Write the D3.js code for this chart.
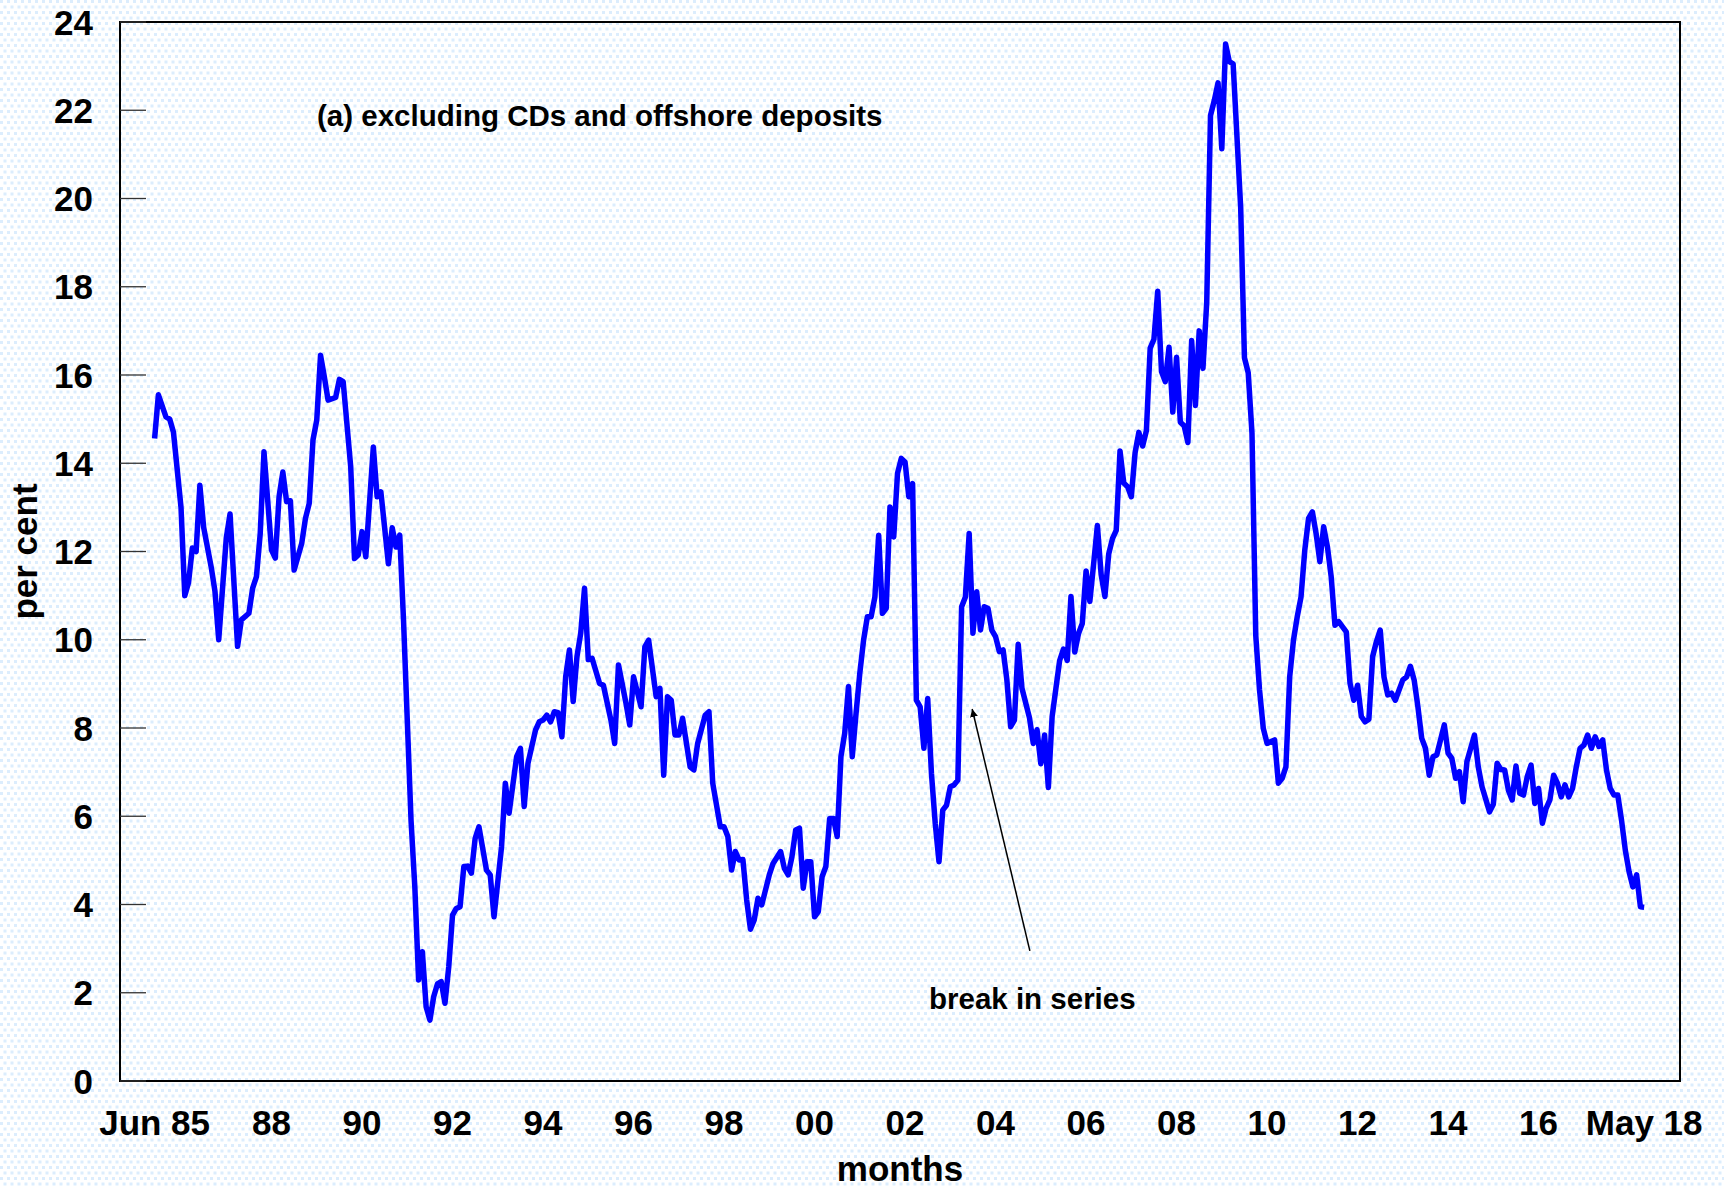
<!DOCTYPE html>
<html>
<head>
<meta charset="utf-8">
<script src="https://cdn.jsdelivr.net/npm/d3@7"></script>
<style>
  body { margin: 0; background: #fff; }
  svg { display: block; }
</style>
</head>
<body>
<div id="chart"></div>
<script>
// months counted from Jun 1985 (0) to May 2018 (395)
const monthIdx = [
  0, 1, 3, 4, 5, 7, 8, 9, 10, 11, 12, 13, 15, 16, 17, 19, 20, 22, 23, 25,
  26, 27, 28, 29, 31, 32, 33, 34, 35, 36, 37, 39, 40, 41, 42, 43, 44, 45, 46, 48,
  49, 50, 52, 53, 54, 55, 56, 58, 59, 60, 62, 63, 64, 65, 66, 67, 68, 69, 70, 71,
  72, 73, 74, 75, 76, 77, 78, 79, 80, 81, 82, 83, 84, 85, 86, 88, 89, 90, 92, 93,
  94, 96, 97, 98, 99, 101, 102, 103, 104, 105, 106, 107, 108, 109, 110, 111, 112, 113, 114, 115,
  116, 118, 119, 121, 122, 123, 125, 126, 127, 129, 130, 131, 133, 134, 135, 136, 137, 138, 139, 140,
  142, 143, 144, 146, 147, 148, 150, 151, 152, 153, 154, 155, 156, 157, 158, 159, 160, 161, 163, 164,
  166, 167, 168, 169, 170, 171, 172, 173, 174, 175, 176, 177, 178, 179, 180, 181, 182, 183, 184, 185,
  186, 187, 188, 189, 190, 191, 192, 193, 194, 195, 196, 197, 198, 199, 200, 201, 202, 203, 204, 205,
  206, 207, 208, 209, 210, 211, 212, 213, 214, 215, 216, 217, 218, 219, 220, 221, 222, 223, 224, 225,
  226, 227, 228, 229, 230, 232, 233, 234, 235, 236, 237, 238, 240, 241, 242, 243, 244, 245, 246, 247,
  248, 249, 250, 251, 252, 253, 254, 255, 256, 257, 258, 259, 260, 261, 262, 263, 264, 265, 266, 267,
  268, 269, 270, 271, 272, 273, 274, 275, 276, 277, 278, 279, 280, 281, 282, 283, 284, 285, 286, 288,
  289, 290, 291, 292, 293, 294, 295, 297, 298, 299, 300, 301, 302, 303, 304, 305, 306, 307, 308, 309, 310, 311,
  312, 313, 314, 316, 317, 318, 319, 320, 321, 322, 323, 324, 325, 326, 327, 328, 329, 331, 332, 333,
  334, 335, 336, 337, 338, 339, 340, 341, 342, 343, 344, 345, 346, 347, 348, 350, 351, 352, 354, 355,
  356, 357, 358, 359, 360, 361, 362, 363, 364, 365, 366, 367, 368, 369, 370, 371, 372, 373, 374, 375,
  376, 377, 378, 379, 380, 381, 382, 383, 384, 385, 386, 387, 388, 389, 390, 391, 392, 393, 394, 395
];

// annual growth, per cent
const growth = [
  14.56, 15.55, 15.05, 15.0, 14.7, 13.0, 11.0, 11.3, 12.08, 12.0, 13.5, 12.55, 11.65, 11.1, 10.0, 12.3, 12.85, 9.85, 10.45, 10.6,
  11.17, 11.43, 12.4, 14.26, 12.03, 11.85, 13.24, 13.8, 13.13, 13.15, 11.58, 12.18, 12.75, 13.09, 14.53, 14.98, 16.45, 15.96, 15.43, 15.49,
  15.9, 15.85, 13.92, 11.84, 11.92, 12.45, 11.88, 14.37, 13.24, 13.35, 11.72, 12.54, 12.1, 12.37, 10.45, 8.18, 5.9, 4.4, 2.29, 2.93,
  1.68, 1.38, 1.91, 2.2, 2.25, 1.76, 2.59, 3.76, 3.91, 3.95, 4.86, 4.87, 4.71, 5.5, 5.76, 4.78, 4.67, 3.72, 5.31, 6.75,
  6.07, 7.35, 7.54, 6.22, 7.2, 7.95, 8.14, 8.18, 8.29, 8.14, 8.37, 8.35, 7.8, 9.16, 9.77, 8.6, 9.62, 10.15, 11.17, 9.55,
  9.58, 9.01, 8.97, 8.18, 7.65, 9.43, 8.56, 8.07, 9.16, 8.48, 9.84, 9.99, 8.71, 8.9, 6.93, 8.71, 8.63, 7.84, 7.84, 8.22,
  7.12, 7.05, 7.65, 8.29, 8.37, 6.75, 5.76, 5.76, 5.54, 4.78, 5.2, 5.01, 5.02, 4.1, 3.44, 3.65, 4.14, 3.99, 4.67, 4.93,
  5.2, 4.82, 4.67, 5.08, 5.69, 5.73, 4.37, 4.97, 4.97, 3.72, 3.84, 4.63, 4.86, 5.95, 5.95, 5.54, 7.35, 7.88, 8.94, 7.35,
  8.33, 9.24, 9.99, 10.52, 10.52, 10.97, 12.37, 10.6, 10.71, 13.01, 12.33, 13.77, 14.11, 14.03, 13.24, 13.54, 8.63, 8.48, 7.54, 8.67,
  6.97, 5.84, 4.97, 6.14, 6.25, 6.67, 6.71, 6.82, 10.75, 10.97, 12.41, 10.15, 11.09, 10.22, 10.75, 10.71, 10.22, 10.07, 9.73, 9.77,
  9.09, 8.03, 8.18, 9.9, 8.9, 8.23, 7.65, 7.96, 7.19, 7.84, 6.65, 8.26, 9.53, 9.79, 9.53, 10.98, 9.72, 10.14, 10.37, 11.56,
  10.87, 11.71, 12.59, 11.48, 10.98, 11.94, 12.29, 12.48, 14.28, 13.55, 13.47, 13.24, 14.24, 14.7, 14.39, 14.74, 16.61, 16.81, 17.9, 16.08,
  15.85, 16.63, 15.16, 16.4, 14.93, 14.85, 14.47, 16.78, 15.31, 17.0, 16.15, 17.65, 21.88, 22.22, 22.62, 21.13, 23.5, 23.1, 23.05, 19.8,
  16.39, 16.05, 14.68, 10.1, 8.86, 7.99, 7.65, 7.73, 6.75, 6.86, 7.12, 9.16, 9.99, 10.52, 10.97, 12.03, 12.75, 12.9, 12.41, 11.77, 12.56, 12.11,
  11.43, 10.33, 10.41, 10.18, 9.01, 8.63, 8.97, 8.26, 8.14, 8.2, 9.62, 9.96, 10.22, 9.16, 8.75, 8.79, 8.63, 9.09, 9.16, 9.4,
  9.09, 8.48, 7.77, 7.54, 6.93, 7.35, 7.39, 7.73, 8.07, 7.43, 7.31, 6.86, 7.01, 6.33, 7.24, 7.84, 7.12, 6.67, 6.1, 6.27,
  7.2, 7.06, 7.05, 6.59, 6.37, 7.14, 6.52, 6.48, 6.9, 7.16, 6.29, 6.63, 5.84, 6.18, 6.37, 6.93, 6.75, 6.44, 6.71, 6.44,
  6.63, 7.12, 7.54, 7.61, 7.84, 7.54, 7.8, 7.58, 7.73, 7.05, 6.63, 6.48, 6.48, 5.91, 5.23, 4.74, 4.4, 4.67, 3.95, 3.94
];

const yTicks = [0, 2, 4, 6, 8, 10, 12, 14, 16, 18, 20, 22, 24];
const xTickMonths = [0, 31, 55, 79, 103, 127, 151, 175, 199, 223, 247, 271, 295, 319, 343, 367, 395];
const xTickLabels = ["Jun 85", "88", "90", "92", "94", "96", "98", "00", "02", "04", "06", "08", "10", "12", "14", "16", "May 18"];

const titleText = "(a) excluding CDs and offshore deposits";
const noteText = "break in series";

const W = 1724, H = 1188;
const plot = { left: 120, right: 1680, top: 22, bottom: 1081 };
const font = "'Liberation Sans', Arial, Helvetica, sans-serif";

const x = d3.scaleLinear().domain([-9.18, 404.5]).range([plot.left, plot.right]);
const y = d3.scaleLinear().domain([0, 24]).range([plot.bottom, plot.top]);

const svg = d3.select("#chart").append("svg")
  .attr("width", W)
  .attr("height", H);

// dotted pale-blue paper
const pat = svg.append("defs").append("pattern")
  .attr("id", "dots")
  .attr("patternUnits", "userSpaceOnUse")
  .attr("width", 7)
  .attr("height", 11);
pat.append("rect").attr("x", 0).attr("y", 0).attr("width", 3).attr("height", 3).attr("fill", "#dcedfd");
pat.append("rect").attr("x", 3.5).attr("y", 5.5).attr("width", 3).attr("height", 3).attr("fill", "#dcedfd");

svg.append("rect").attr("width", W).attr("height", H).attr("fill", "#fff");
svg.append("rect").attr("width", W).attr("height", H).attr("fill", "url(#dots)");

// frame
svg.append("rect")
  .attr("x", plot.left)
  .attr("y", plot.top)
  .attr("width", plot.right - plot.left)
  .attr("height", plot.bottom - plot.top)
  .attr("fill", "none")
  .attr("stroke", "#000")
  .attr("stroke-width", 2);

// y axis: inward ticks + labels
const yAxis = svg.append("g");
yAxis.selectAll("line")
  .data(yTicks)
  .enter()
  .append("line")
  .attr("x1", plot.left)
  .attr("x2", plot.left + 26)
  .attr("y1", d => y(d))
  .attr("y2", d => y(d))
  .attr("stroke", "#333")
  .attr("stroke-width", 1.3);

yAxis.selectAll("text")
  .data(yTicks)
  .enter()
  .append("text")
  .attr("x", 93)
  .attr("y", d => y(d) + 12.5)
  .attr("text-anchor", "end")
  .style("font-family", font)
  .style("font-size", "35px")
  .style("font-weight", "bold")
  .text(d => d);

// x labels
svg.append("g").selectAll("text")
  .data(xTickMonths)
  .enter()
  .append("text")
  .attr("x", d => x(d))
  .attr("y", 1135)
  .attr("text-anchor", "middle")
  .style("font-family", font)
  .style("font-size", "35px")
  .style("font-weight", "bold")
  .text((d, i) => xTickLabels[i]);

// axis titles
svg.append("text")
  .attr("x", (plot.left + plot.right) / 2)
  .attr("y", 1181)
  .attr("text-anchor", "middle")
  .style("font-family", font)
  .style("font-size", "35px")
  .style("font-weight", "bold")
  .text("months");

svg.append("text")
  .attr("transform", `translate(37, ${(plot.top + plot.bottom) / 2}) rotate(-90)`)
  .attr("text-anchor", "middle")
  .style("font-family", font)
  .style("font-size", "35px")
  .style("font-weight", "bold")
  .text("per cent");

// panel title
svg.append("text")
  .attr("x", 317)
  .attr("y", 126)
  .style("font-family", font)
  .style("font-size", "29.5px")
  .style("font-weight", "bold")
  .text(titleText);

// series
const pts = monthIdx.map((m, i) => [m, growth[i]]);
const line = d3.line()
  .x(d => x(d[0]))
  .y(d => y(d[1]));

svg.append("path")
  .datum(pts)
  .attr("d", line)
  .attr("fill", "none")
  .attr("stroke", "#0000ff")
  .attr("stroke-width", 5.5)
  .attr("stroke-linejoin", "round");

// break in series annotation
const tip = [216.8, 8.43], tail = [232.1, 2.95];
svg.append("defs").append("marker")
  .attr("id", "arrow")
  .attr("viewBox", "0 0 10 10")
  .attr("refX", 10)
  .attr("refY", 5)
  .attr("markerWidth", 8)
  .attr("markerHeight", 8)
  .attr("markerUnits", "userSpaceOnUse")
  .attr("orient", "auto")
  .append("path")
  .attr("d", "M0,0 L10,5 L0,10 Z")
  .attr("fill", "#000");

svg.append("line")
  .attr("x1", x(tail[0]))
  .attr("y1", y(tail[1]))
  .attr("x2", x(tip[0]))
  .attr("y2", y(tip[1]))
  .attr("stroke", "#000")
  .attr("stroke-width", 1.5)
  .attr("marker-end", "url(#arrow)");

svg.append("text")
  .attr("x", 929)
  .attr("y", 1009)
  .style("font-family", font)
  .style("font-size", "29.5px")
  .style("font-weight", "bold")
  .text(noteText);
</script>
</body>
</html>
